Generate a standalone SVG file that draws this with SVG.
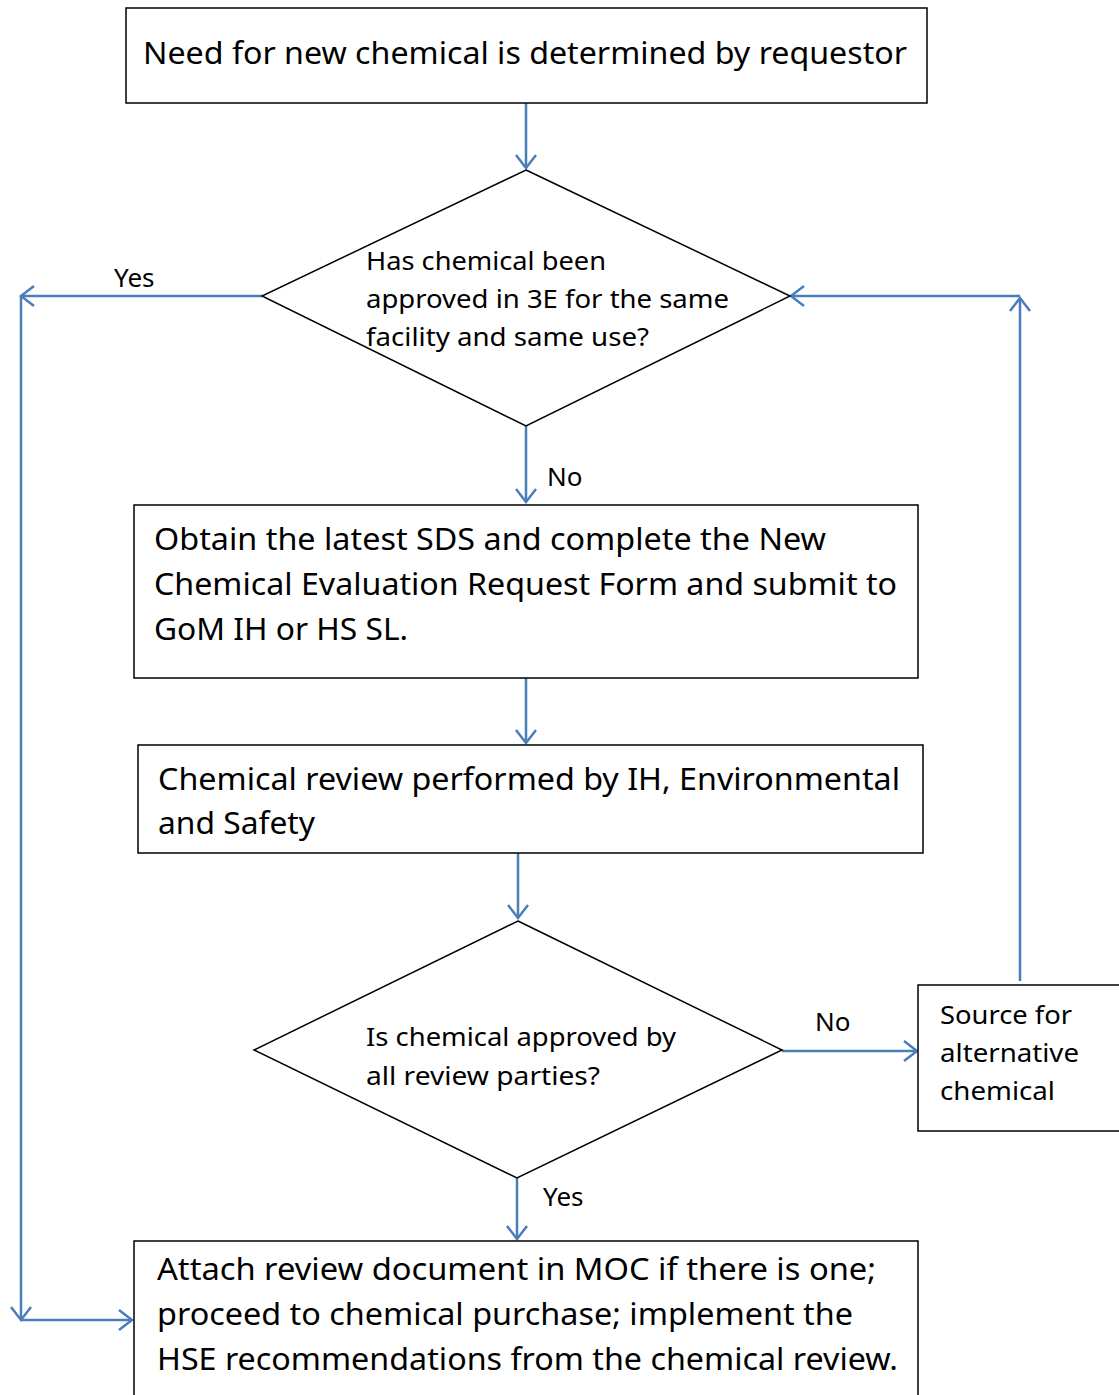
<svg xmlns="http://www.w3.org/2000/svg" width="1119" height="1395" viewBox="0 0 1119 1395">
<style>
.box{fill:#fff;stroke:#000;stroke-width:1.5}
.con{fill:none;stroke:#4A7EBB;stroke-width:2.5}
.t{font-family:"Noto Sans","Open Sans",sans-serif;fill:#000}
.big{font-size:31px}
.sm{font-size:26px}
</style>
<defs>
<marker id="arr" markerUnits="userSpaceOnUse" viewBox="-16 -12 20 24" refX="0" refY="0" markerWidth="20" markerHeight="24" orient="auto">
<path d="M-13,-10 L0,0 L-13,10" fill="none" stroke="#4A7EBB" stroke-width="2.5"/>
</marker>
</defs>
<rect width="1119" height="1395" fill="#fff"/>
<g id="connectors">
<line class="con" x1="526" y1="103" x2="526" y2="168" marker-end="url(#arr)"/>
<line class="con" x1="262" y1="296" x2="21" y2="296" marker-end="url(#arr)"/>
<line class="con" x1="21" y1="296" x2="21" y2="1320" marker-end="url(#arr)"/>
<line class="con" x1="21" y1="1320" x2="132" y2="1320" marker-end="url(#arr)"/>
<line class="con" x1="526" y1="426" x2="526" y2="502" marker-end="url(#arr)"/>
<line class="con" x1="526" y1="678" x2="526" y2="743" marker-end="url(#arr)"/>
<line class="con" x1="518" y1="853" x2="518" y2="918" marker-end="url(#arr)"/>
<line class="con" x1="782" y1="1051" x2="917" y2="1051" marker-end="url(#arr)"/>
<line class="con" x1="517" y1="1178" x2="517" y2="1239" marker-end="url(#arr)"/>
<line class="con" x1="1020" y1="981" x2="1020" y2="298" marker-end="url(#arr)"/>
<line class="con" x1="1020" y1="296" x2="791" y2="296" marker-end="url(#arr)"/>
<text class="t sm" x="114" y="287">Yes</text>
<text class="t sm" x="547" y="486">No</text>
<text class="t sm" x="815" y="1031">No</text>
<text class="t sm" x="543" y="1206">Yes</text>
</g>
<g id="n1">
<rect class="box" x="126" y="8" width="801" height="95"/>
<text class="t big" x="143" y="64" textLength="764" lengthAdjust="spacingAndGlyphs">Need for new chemical is determined by requestor</text>
</g>
<g id="n2">
<polygon class="box" points="526,170 790,296 526,426 262,296"/>
<text class="t sm" x="366" y="270" textLength="240" lengthAdjust="spacingAndGlyphs">Has chemical been</text>
<text class="t sm" x="366" y="308" textLength="363" lengthAdjust="spacingAndGlyphs">approved in 3E for the same</text>
<text class="t sm" x="366" y="346" textLength="283" lengthAdjust="spacingAndGlyphs">facility and same use?</text>
</g>
<g id="n3">
<rect class="box" x="134" y="505" width="784" height="173"/>
<text class="t big" x="154" y="550" textLength="672" lengthAdjust="spacingAndGlyphs">Obtain the latest SDS and complete the New</text>
<text class="t big" x="154" y="595" textLength="743" lengthAdjust="spacingAndGlyphs">Chemical Evaluation Request Form and submit to</text>
<text class="t big" x="154" y="640" textLength="254" lengthAdjust="spacingAndGlyphs">GoM IH or HS SL.</text>
</g>
<g id="n4">
<rect class="box" x="138" y="745" width="785" height="108"/>
<text class="t big" x="158" y="790" textLength="742" lengthAdjust="spacingAndGlyphs">Chemical review performed by IH, Environmental</text>
<text class="t big" x="158" y="834" textLength="157" lengthAdjust="spacingAndGlyphs">and Safety</text>
</g>
<g id="n5">
<polygon class="box" points="518,921 782,1050 517,1178 254,1050"/>
<text class="t sm" x="366" y="1046" textLength="310" lengthAdjust="spacingAndGlyphs">Is chemical approved by</text>
<text class="t sm" x="366" y="1085" textLength="234" lengthAdjust="spacingAndGlyphs">all review parties?</text>
</g>
<g id="n6">
<rect class="box" x="918" y="985" width="210" height="146"/>
<text class="t sm" x="940" y="1024" textLength="132" lengthAdjust="spacingAndGlyphs">Source for</text>
<text class="t sm" x="940" y="1062" textLength="139" lengthAdjust="spacingAndGlyphs">alternative</text>
<text class="t sm" x="940" y="1100" textLength="115" lengthAdjust="spacingAndGlyphs">chemical</text>
</g>
<g id="n7">
<rect class="box" x="134" y="1241" width="784" height="170"/>
<text class="t big" x="157" y="1280" textLength="719" lengthAdjust="spacingAndGlyphs">Attach review document in MOC if there is one;</text>
<text class="t big" x="157" y="1325" textLength="696" lengthAdjust="spacingAndGlyphs">proceed to chemical purchase; implement the</text>
<text class="t big" x="157" y="1370" textLength="741" lengthAdjust="spacingAndGlyphs">HSE recommendations from the chemical review.</text>
</g>
</svg>
